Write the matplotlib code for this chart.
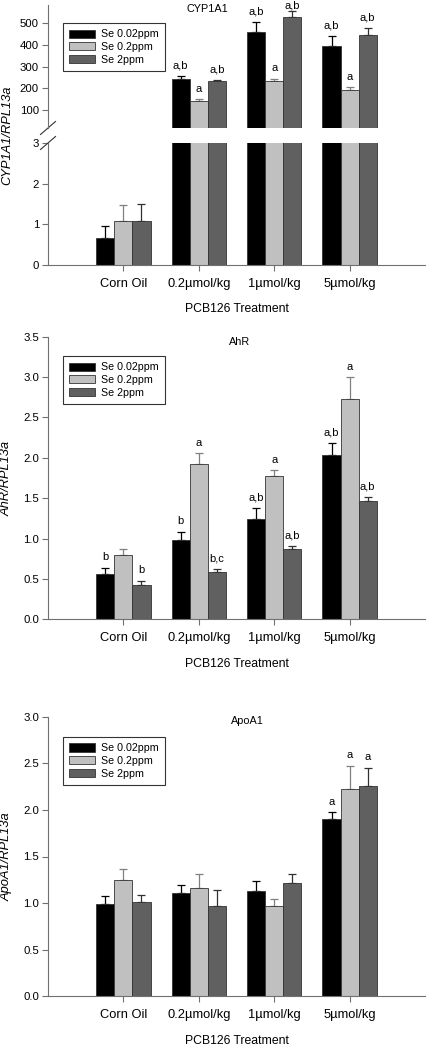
import numpy as np
import matplotlib
matplotlib.use('Agg')
import matplotlib.pyplot as plt

plt.rcParams['font.family'] = ['Liberation Sans', 'DejaVu Sans']

#### data
##############################################################################
categories = ['Corn Oil', '0.2µmol/kg', '1µmol/kg', '5µmol/kg']
series = ['Se 0.02ppm', 'Se 0.2ppm', 'Se 2ppm']

# CYP1A1 (broken axis)
cyp_mean = [[0.66, 243, 458, 397],
            [1.07, 141, 234, 191],
            [1.07, 234, 530, 445]]
cyp_err = [[0.29, 15, 48, 44],
           [0.41, 9, 10, 14],
           [0.42, 3, 25, 33]]
cyp_lab = [['', 'a,b', 'a,b', 'a,b'],
           ['', 'a', 'a', 'a'],
           ['', 'a,b', 'a,b', 'a,b']]

# AhR
ahr_mean = [[0.557, 0.981, 1.241, 2.03],
            [0.796, 1.922, 1.777, 2.73],
            [0.424, 0.581, 0.866, 1.46]]
ahr_err = [[0.078, 0.10, 0.14, 0.156],
           [0.074, 0.132, 0.067, 0.265],
           [0.054, 0.038, 0.041, 0.054]]
ahr_lab = [['b', 'b', 'a,b', 'a,b'],
           ['', 'a', 'a', 'a'],
           ['b', 'b,c', 'a,b', 'a,b']]

# ApoA1
apo_mean = [[0.994, 1.105, 1.127, 1.902],
            [1.248, 1.165, 0.972, 2.227],
            [1.012, 0.972, 1.216, 2.26]]
apo_err = [[0.086, 0.085, 0.107, 0.072],
           [0.115, 0.147, 0.072, 0.247],
           [0.072, 0.165, 0.096, 0.193]]
apo_lab = [['', '', '', 'a'],
           ['', '', '', 'a'],
           ['', '', '', 'a']]

#### styles
##############################################################################
bar_colors = ['#000000', '#c0c0c0', '#606060']
err_colors = ['#000000', '#808080', '#303030']
spine_col = '#707070'
bw = 0.24
x = np.arange(1, len(categories) + 1)

W, H = 443, 1046
fig = plt.figure(figsize=(W / 100, H / 100), dpi=100)


def axes_px(top, bottom, left=48, right=425):
    return fig.add_axes([left / W, 1 - bottom / H,
                         (right - left) / W, (bottom - top) / H])


def style_axes(ax, bottom=True):
    for s in ['top', 'right']:
        ax.spines[s].set_visible(False)
    ax.spines['left'].set_color(spine_col)
    ax.spines['bottom'].set_color(spine_col)
    ax.spines['bottom'].set_visible(bottom)
    ax.tick_params(axis='y', direction='out', length=4, width=0.8,
                   color=spine_col, labelsize=8.2, pad=2.5)
    ax.tick_params(axis='x', direction='out', length=4, width=0.8,
                   color=spine_col, labelsize=9.3, pad=5.5)
    ax.set_xlim(0, 5)
    if bottom:
        ax.set_xticks(x)
        ax.set_xticklabels(categories)
        ax.set_xlabel('PCB126 Treatment', fontsize=8.8, labelpad=9.5)
    else:
        ax.set_xticks([])


def draw_bars(ax, mean, err, labels, ylim):
    ax.set_ylim(*ylim)
    for i in range(3):
        xs = x + (i - 1) * bw
        ax.bar(xs, mean[i], bw, color=bar_colors[i], edgecolor='#333333',
               linewidth=0.6, label=series[i], zorder=2)
        ax.errorbar(xs, mean[i], yerr=[np.zeros(4), err[i]], fmt='none',
                    ecolor=err_colors[i], elinewidth=0.9, capsize=3,
                    capthick=0.9, zorder=1)
        for j in range(4):
            top = mean[i][j] + err[i][j]
            if labels[i][j] and top > ylim[0]:
                # keep the letters inside the figure near the top edge
                py = ax.transData.transform((xs[j], top))[1]
                pad = max(0.0, min(4.0, (H - 10 - py) * 0.72))
                ax.annotate(labels[i][j], (xs[j], top), xytext=(0, pad),
                            textcoords='offset points', ha='center',
                            va='bottom', fontsize=8)


def add_legend(ax, top_frac):
    leg = ax.legend(loc='upper left', bbox_to_anchor=(0.04, top_frac),
                    fontsize=7.7, frameon=True, fancybox=False,
                    handlelength=2.4, handleheight=0.8, handletextpad=0.5,
                    labelspacing=0.25, borderpad=0.6, borderaxespad=0)
    leg.get_frame().set_edgecolor('black')
    leg.get_frame().set_linewidth(0.8)


#### CYP1A1 panel with broken y axis
##############################################################################
ax_up = axes_px(5, 128)
ax_lo = axes_px(143, 265)
draw_bars(ax_up, cyp_mean, cyp_err, cyp_lab, (17, 584))
draw_bars(ax_lo, cyp_mean, cyp_err, [[''] * 4] * 3, (0, 3))
ax_up.set_yticks([100, 200, 300, 400, 500])
ax_lo.set_yticks([0, 1, 2, 3])
style_axes(ax_up, bottom=False)
style_axes(ax_lo)
add_legend(ax_up, 0.854)
ax_up.text(0.424, 0.967, 'CYP1A1', transform=ax_up.transAxes, ha='center',
           va='center', fontsize=7.8)

# break marks on the y axis
dx, dy = 7.5 / 377, 6.5 / 123
ax_up.plot([-dx, dx], [-dy, dy], transform=ax_up.transAxes, color='#333333',
           lw=0.8, clip_on=False)
dy = 6.5 / 122
ax_lo.plot([-dx, dx], [1 - dy, 1 + dy], transform=ax_lo.transAxes,
           color='#333333', lw=0.8, clip_on=False)
fig.text(7 / W, 1 - 135 / H, 'CYP1A1/RPL13a', rotation=90, style='italic',
         fontsize=9.3, ha='center', va='center')

#### AhR panel
##############################################################################
ax2 = axes_px(336.7, 619.3)
draw_bars(ax2, ahr_mean, ahr_err, ahr_lab, (0, 3.5))
ax2.set_yticks(np.arange(0, 3.51, 0.5))
ax2.yaxis.set_major_formatter('{x:.1f}')
style_axes(ax2)
add_legend(ax2, 0.932)
ax2.text(0.507, 0.982, 'AhR', transform=ax2.transAxes, ha='center',
         va='center', fontsize=7.8)
ax2.set_ylabel('AhR/RPL13a', style='italic', fontsize=9.3)
ax2.yaxis.set_label_coords(-0.109, 0.5)

#### ApoA1 panel
##############################################################################
ax3 = axes_px(716.7, 996.3)
draw_bars(ax3, apo_mean, apo_err, apo_lab, (0, 3.0))
ax3.set_yticks(np.arange(0, 3.01, 0.5))
ax3.yaxis.set_major_formatter('{x:.1f}')
style_axes(ax3)
add_legend(ax3, 0.928)
ax3.text(0.528, 0.985, 'ApoA1', transform=ax3.transAxes, ha='center',
         va='center', fontsize=7.8)
ax3.set_ylabel('ApoA1/RPL13a', style='italic', fontsize=9.3)
ax3.yaxis.set_label_coords(-0.109, 0.5)

for ax in [ax2, ax3]:
    ax.yaxis.label.set_va('center')

fig.savefig('out.png', dpi=100)
